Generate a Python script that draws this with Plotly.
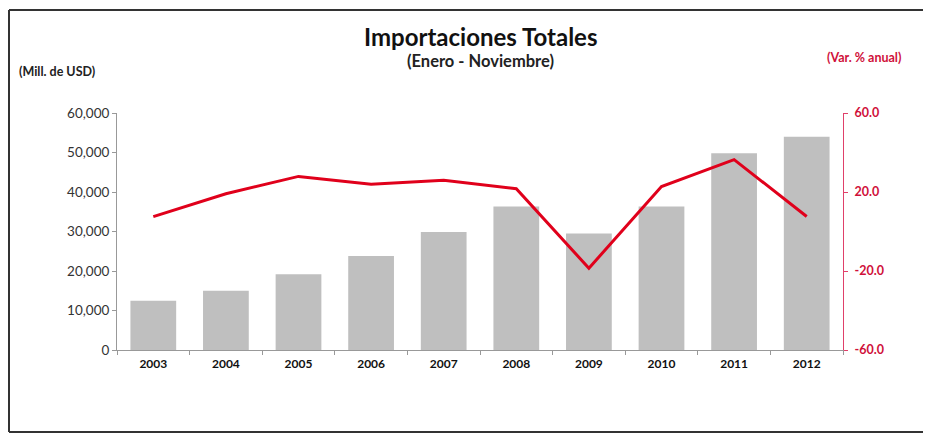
import plotly.graph_objects as go

years = ["2003", "2004", "2005", "2006", "2007", "2008", "2009", "2010", "2011", "2012"]
imports_musd = [12500, 15000, 19200, 23800, 29900, 36300, 29500, 36300, 49800, 54000]
var_pct = [7.5, 19.1, 27.9, 23.9, 25.9, 21.7, -18.6, 22.8, 36.4, 7.6]

left_ticks = [0, 10000, 20000, 30000, 40000, 50000, 60000]
right_ticks = [-60, -20, 20, 60]
right_tick_labels = ["-60.0", "-20.0", "20.0", "60.0"]

FONT = "Lato"
RED = "#E0001B"

# page body has an 8px default margin; target coordinates below are in screen pixels
OFF = 8
W, H = 931 - OFF, 435 - OFF
L, R, T, B = 117 - OFF, 88, 113 - OFF, 85
pw, ph = W - L - R, H - T - B

def px(x):
    return (x - OFF - L) / pw

def py(y):
    return (H - B - (y - OFF)) / ph

fig = go.Figure()
fig.add_trace(go.Bar(x=years, y=imports_musd, marker=dict(color="#BFBFBF", line=dict(width=0)),
                     name="Importaciones", yaxis="y"))
fig.add_trace(go.Scatter(x=years, y=var_pct, mode="lines", line=dict(color=RED, width=3),
                         name="Var. % anual", yaxis="y2"))

fig.update_layout(
    width=W, height=H,
    margin=dict(l=L, r=R, t=T, b=B),
    paper_bgcolor="white", plot_bgcolor="white",
    showlegend=False,
    bargap=0.37,
    font=dict(family=FONT, color="#222222"),
    xaxis=dict(type="category", showline=True, linecolor="#999999", linewidth=1,
               ticks="outside", ticklen=4, tickcolor="#999999", tickson="boundaries",
               ticklabelstandoff=3,
               tickfont=dict(size=12, family=FONT, color="#111111", weight="bold"),
               showgrid=False),
    yaxis=dict(range=[0, 60000], tickvals=left_ticks, tickformat=",d",
               showline=True, linecolor="#999999", linewidth=1,
               ticks="outside", ticklen=4, tickcolor="#999999",
               tickfont=dict(size=13.5, family=FONT, color="#333333"),
               showgrid=False, zeroline=False),
    yaxis2=dict(range=[-60, 60], tickvals=right_ticks, ticktext=right_tick_labels,
                overlaying="y", side="right",
                showline=True, linecolor="#E0406A", linewidth=1,
                ticks="outside", ticklen=4, tickcolor="#E0406A",
                ticklabelstandoff=4,
                tickfont=dict(size=12.5, family=FONT, color="#D0103A", weight="bold"),
                showgrid=False, zeroline=False),
    annotations=[
        dict(text="<b>Importaciones Totales</b>", x=px(481), y=py(36), xref="paper", yref="paper",
             xanchor="center", yanchor="middle",
             showarrow=False, font=dict(size=24, family=FONT, color="#111111")),
        dict(text="<b>(Enero - Noviembre)</b>", x=px(481), y=py(61), xref="paper", yref="paper",
             xanchor="center", yanchor="middle",
             showarrow=False, font=dict(size=16.5, family=FONT, color="#222222")),
        dict(text="<b>(Mill. de USD)</b>", x=px(17), y=py(72), xref="paper", yref="paper",
             xanchor="left", yanchor="middle", showarrow=False,
             font=dict(size=12.5, family=FONT, color="#222222")),
        dict(text="<b>(Var. % anual)</b>", x=px(903), y=py(57), xref="paper", yref="paper",
             xanchor="right", yanchor="middle", showarrow=False,
             font=dict(size=12.5, family=FONT, color="#D0103A")),
    ],
    shapes=[
        dict(type="line", xref="paper", yref="paper", x0=px(9), x1=px(940), y0=py(10), y1=py(10),
             line=dict(color="#333333", width=2)),
        dict(type="line", xref="paper", yref="paper", x0=px(9), x1=px(9), y0=py(10), y1=py(432),
             line=dict(color="#333333", width=2)),
        dict(type="line", xref="paper", yref="paper", x0=px(9), x1=px(940), y0=py(432), y1=py(432),
             line=dict(color="#333333", width=2)),
    ],
)

fig.write_html("out.html")
